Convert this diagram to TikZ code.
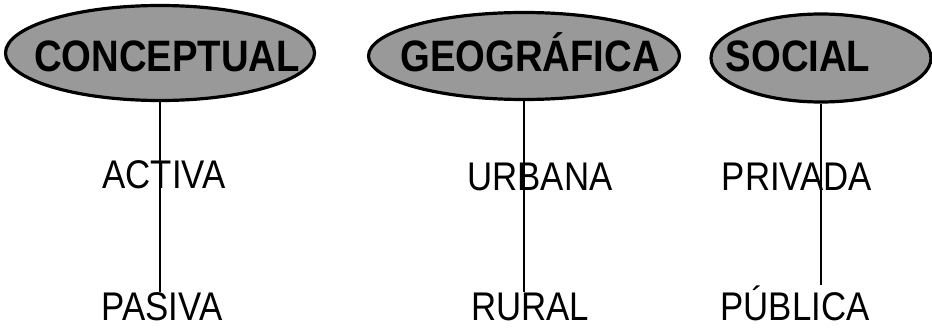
\documentclass[tikz,border=0pt]{standalone}
\usepackage{fontspec}
\setmainfont{Liberation Sans}
\newfontfamily\labelfont[FakeStretch=0.87]{Liberation Sans}
\usetikzlibrary{shapes.geometric}
\begin{document}
\begin{tikzpicture}[x=1pt,y=-1pt,
  oval/.style={ellipse, draw, line width=3.2pt, fill=black!40, inner sep=0pt},
  title/.style={anchor=base, inner sep=0pt, font=\fontsize{44}{44}\labelfont\bfseries},
  item/.style={anchor=base, inner sep=0pt, font=\fontsize{40}{40}\labelfont},
  link/.style={line width=2pt}]
\useasboundingbox (0,0) rectangle (932,329);
\node[oval, minimum width=309pt, minimum height=95pt] (concept) at (160,53) {};
\node[oval, minimum width=311pt, minimum height=87pt] (geo) at (524,56) {};
\node[oval, minimum width=220pt, minimum height=88pt] (social) at (821,58) {};
\node[title] (tconcept) at (167,72) {CONCEPTUAL};
\node[title] (tgeo) at (530,72) {GEOGRÁFICA};
\node[title] (tsocial) at (798,72) {SOCIAL};
\node[item] (activa) at (164,188) {ACTIVA};
\node[item] (pasiva) at (162,320) {PASIVA};
\node[item] (urbana) at (540,190) {URBANA};
\node[item] (rural) at (530,320) {RURAL};
\node[item] (privada) at (797,190) {PRIVADA};
\node[item] (publica) at (795,320) {PÚBLICA};
\draw[link] (concept.south) -- (concept.south |- pasiva.north);
\draw[link] (geo.south) -- (geo.south |- rural.north);
\draw[link] (social.south) -- (social.south |- publica.north);
\end{tikzpicture}
\end{document}
